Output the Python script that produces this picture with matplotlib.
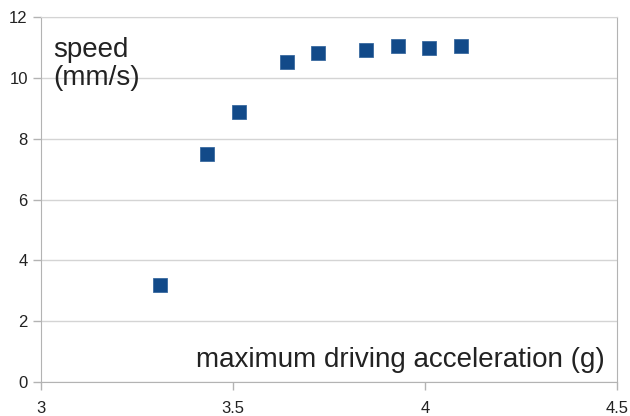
import matplotlib
matplotlib.use('Agg')
from matplotlib import pyplot as plt

# maximum driving acceleration (g) vs speed (mm/s)
accel = [3.31, 3.433, 3.516, 3.640, 3.722, 3.846, 3.929, 4.011, 4.094]
speed = [3.20, 7.51, 8.88, 10.52, 10.81, 10.92, 11.06, 10.98, 11.04]

x_ticks = [3, 3.5, 4, 4.5]
x_labels = ['3', '3.5', '4', '4.5']
y_ticks = [0, 2, 4, 6, 8, 10, 12]

plt.rcParams['font.family'] = ['Liberation Sans', 'DejaVu Sans']

fig = plt.figure(figsize=(6.3, 4.16), dpi=100)
ax = fig.add_axes([41/630, 34/416, 576/630, 365/416])

ax.plot(accel, speed, 's', color='#124a89', markersize=10, markeredgecolor='#3a6aa0',
        markeredgewidth=0.6, zorder=3)

ax.set_xlim(3, 4.5)
ax.set_ylim(0, 12)
ax.set_xticks(x_ticks)
ax.set_xticklabels(x_labels)
ax.set_yticks(y_ticks)

ax.grid(axis='y', color='#d4d4d4', linewidth=1)
ax.set_axisbelow(True)
for side in ['left', 'bottom', 'right']:
    ax.spines[side].set_color('#b3b3b3')
ax.spines['top'].set_color('#d4d4d4')
ax.tick_params(axis='both', colors='#b3b3b3', labelcolor='#222222', labelsize=12,
               length=5.5, width=1)
ax.tick_params(axis='x', pad=8)
ax.tick_params(axis='y', pad=4)

ax.text(0.021, 0.945, 'speed\n(mm/s)', transform=ax.transAxes, fontsize=20,
        color='#222222', va='top', ha='left', linespacing=1.1)
ax.text(0.978, 0.025, 'maximum driving acceleration (g)', transform=ax.transAxes,
        fontsize=20, color='#222222', va='bottom', ha='right')

fig.savefig('out.png', dpi=100)
